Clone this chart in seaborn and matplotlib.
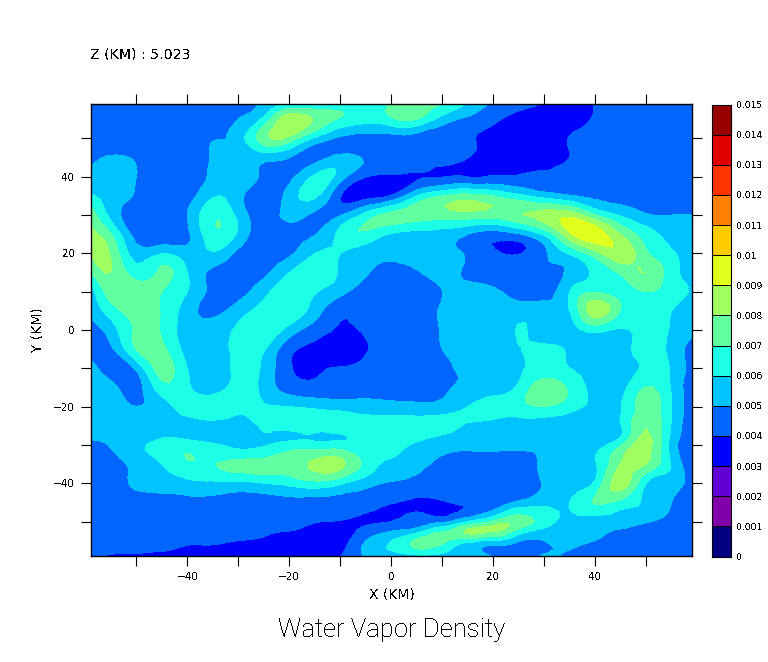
#!/usr/bin/env python
"""Water vapor density at Z = 5.023 km, filled contours with a boxed colour key."""
import numpy as np
import matplotlib
matplotlib.use('Agg')
import matplotlib.pyplot as plt
import matplotlib.tri as mtri
import seaborn as sns

x_km = [-59, -55, -50, -45, -40, -35, -30, -25, -20, -15, -10, -5, 0, 5, 10, 15, 20, 25, 30, 35, 40, 45, 50, 55, 59]
y_km = [59, 55, 50, 45, 40, 35, 30, 25, 20, 15, 10, 5, 0, -5, -10, -15, -20, -25, -28.5, -30, -35, -40, -45, -50, -52.5, -55, -59]

# density, in units of 0.001, one row per y_km value
density = [
    [4.5, 4.5, 4.5, 4.5, 4.5, 4.5, 4.6, 5.2, 5.9, 6.1, 6.4, 6.5, 7.1, 7.4, 7.1, 5.9, 4.8, 4.3, 3.95, 3.6, 4.05, 4.3, 4.4, 4.4, 4.4],
    [4.5, 4.5, 4.5, 4.5, 4.5, 4.5, 5.0, 6.3, 8.7, 7.9, 6.9, 6.4, 6.8, 7.0, 5.6, 4.8, 4.2, 3.7, 3.5, 3.5, 4.1, 4.3, 4.4, 4.4, 4.4],
    [4.5, 4.5, 4.5, 4.5, 4.5, 4.95, 5.5, 7.6, 7.7, 5.8, 4.8, 4.6, 4.6, 4.5, 4.4, 4.1, 3.7, 3.4, 3.5, 4.05, 4.4, 4.4, 4.4, 4.4, 4.4],
    [4.7, 5.1, 4.9, 4.5, 4.4, 5.1, 5.4, 5.4, 5.0, 4.6, 5.3, 4.9, 4.6, 4.5, 4.4, 4.02, 3.7, 3.6, 3.7, 4.0, 4.3, 4.4, 4.4, 4.4, 4.4],
    [5.3, 5.7, 5.0, 4.5, 4.4, 5.2, 5.4, 4.8, 4.7, 6.2, 5.5, 4.05, 3.8, 3.9, 3.97, 3.98, 4.1, 4.1, 4.1, 4.2, 4.5, 4.5, 4.5, 4.5, 4.5],
    [6.1, 5.6, 4.9, 4.4, 4.5, 5.9, 5.3, 4.5, 5.4, 6.2, 4.05, 3.6, 4.1, 6.0, 7.0, 7.4, 7.0, 6.3, 5.6, 5.1, 4.8, 4.6, 4.5, 4.4, 4.4],
    [7.7, 5.7, 4.5, 4.3, 5.0, 6.8, 5.7, 4.6, 5.2, 4.8, 4.95, 6.4, 7.3, 7.5, 7.5, 7.6, 7.5, 7.9, 8.4, 8.7, 7.1, 5.9, 5.1, 5.0, 5.0],
    [8.3, 7.1, 4.6, 4.2, 4.8, 6.7, 5.8, 4.4, 4.6, 4.95, 6.3, 6.8, 5.9, 5.6, 5.5, 5.0, 4.5, 4.9, 6.2, 8.8, 9.6, 8.0, 6.5, 5.6, 5.3],
    [8.1, 7.9, 5.5, 5.95, 5.5, 5.9, 4.7, 4.3, 4.8, 6.0, 6.0, 5.4, 5.1, 5.2, 5.3, 4.85, 4.2, 3.95, 4.8, 6.1, 7.6, 8.7, 7.2, 6.1, 5.5],
    [7.0, 8.0, 6.5, 7.2, 6.0, 4.8, 4.2, 4.7, 6.0, 6.6, 5.9, 5.1, 4.7, 4.9, 5.3, 4.8, 4.5, 4.6, 4.7, 5.2, 6.2, 7.2, 8.0, 6.4, 5.8],
    [5.5, 7.5, 7.6, 7.0, 6.0, 4.7, 4.6, 5.7, 6.5, 6.1, 5.3, 4.5, 4.4, 4.5, 5.0, 5.4, 5.2, 4.6, 4.4, 6.0, 6.95, 6.5, 7.0, 6.5, 5.9],
    [5.3, 6.5, 7.5, 6.9, 5.5, 4.7, 5.5, 6.4, 6.6, 5.5, 4.2, 4.2, 4.2, 4.5, 5.1, 5.4, 5.5, 5.6, 5.7, 6.0, 8.6, 6.95, 6.3, 6.0, 5.7],
    [4.4, 5.5, 7.2, 6.9, 5.5, 5.5, 6.2, 6.7, 5.6, 4.5, 3.9, 4.1, 4.3, 4.4, 5.1, 5.5, 5.5, 6.05, 5.6, 5.5, 6.3, 5.9, 6.3, 5.9, 5.3],
    [4.3, 4.8, 7.05, 7.3, 5.6, 5.4, 6.3, 6.1, 4.3, 3.8, 3.5, 3.95, 4.2, 4.4, 5.0, 5.4, 5.5, 5.95, 6.2, 5.9, 5.6, 5.6, 6.4, 5.7, 4.6],
    [5.5, 4.4, 5.2, 7.4, 6.0, 5.5, 6.2, 5.8, 4.1, 3.85, 4.05, 4.2, 4.4, 4.5, 4.7, 5.3, 5.4, 5.8, 6.4, 6.0, 5.6, 5.5, 6.2, 5.9, 4.5],
    [5.9, 5.4, 4.6, 6.6, 6.2, 5.6, 6.3, 5.7, 4.5, 4.3, 4.4, 4.5, 4.5, 4.5, 4.8, 5.2, 5.5, 6.2, 7.6, 6.8, 5.6, 5.6, 7.05, 5.9, 4.4],
    [5.8, 5.7, 5.0, 5.6, 6.3, 6.5, 6.2, 6.1, 6.0, 5.8, 5.6, 5.5, 5.4, 5.3, 5.4, 6.0, 6.4, 6.6, 7.0, 6.4, 5.7, 5.9, 7.5, 6.0, 4.5],
    [5.7, 5.6, 5.5, 5.5, 5.6, 5.7, 5.7, 6.1, 6.3, 6.4, 6.4, 6.4, 6.5, 6.5, 6.4, 5.9, 5.7, 5.5, 5.5, 5.4, 5.5, 5.95, 7.9, 5.9, 4.5],
    [5.05, 5.3, 5.6, 6.05, 5.95, 5.8, 5.6, 5.85, 5.9, 5.9, 5.95, 6.3, 6.4, 6.2, 5.7, 5.5, 5.4, 5.4, 5.4, 5.4, 5.5, 6.2, 8.3, 5.7, 4.5],
    [4.3, 5.1, 5.8, 6.3, 6.5, 6.1, 5.7, 5.9, 6.4, 6.4, 6.4, 6.3, 6.3, 5.8, 5.4, 5.3, 5.3, 5.3, 5.3, 5.4, 5.7, 6.9, 8.4, 5.6, 4.4],
    [4.3, 4.6, 5.3, 6.0, 6.88, 6.95, 7.3, 7.4, 7.5, 8.2, 8.3, 6.7, 5.8, 5.3, 4.7, 4.3, 4.3, 4.3, 5.3, 5.5, 5.9, 8.05, 8.0, 5.9, 4.3],
    [4.2, 4.4, 5.2, 5.4, 5.7, 5.8, 5.8, 6.0, 6.3, 6.7, 6.2, 5.4, 4.9, 4.6, 4.2, 4.1, 4.1, 4.3, 5.1, 5.5, 6.2, 8.5, 6.0, 5.4, 4.5],
    [4.4, 4.4, 4.5, 4.6, 4.7, 4.7, 4.6, 4.6, 4.7, 4.6, 4.6, 4.4, 4.05, 3.9, 3.9, 4.1, 4.3, 5.2, 5.7, 6.0, 7.1, 6.7, 5.8, 5.0, 4.4],
    [4.3, 4.4, 4.3, 4.3, 4.3, 4.3, 4.3, 4.3, 4.3, 4.05, 3.95, 3.9, 4.0, 4.4, 4.8, 6.0, 7.2, 7.6, 6.5, 5.7, 5.4, 5.3, 5.1, 4.7, 4.4],
    [4.3, 4.4, 4.3, 4.3, 4.3, 4.3, 4.2, 4.1, 4.0, 3.7, 3.6, 4.3, 5.0, 5.6, 6.9, 8.2, 8.1, 6.6, 5.7, 5.5, 5.2, 4.9, 4.5, 4.3, 4.3],
    [4.3, 4.3, 4.3, 4.2, 4.1, 4.1, 4.0, 3.95, 3.8, 3.7, 3.6, 5.0, 6.0, 7.2, 7.3, 6.4, 5.9, 5.1, 5.0, 5.3, 5.0, 4.5, 4.4, 4.3, 4.3],
    [4.1, 3.95, 3.9, 3.9, 3.9, 3.8, 3.8, 3.7, 3.6, 3.5, 3.95, 5.1, 5.6, 5.8, 5.7, 5.5, 4.9, 4.6, 5.1, 4.8, 4.4, 4.3, 4.3, 4.3, 4.3],
]

levels = [i * 0.001 for i in range(16)]
level_labels = ['0', '0.001', '0.002', '0.003', '0.004', '0.005', '0.006', '0.007',
                '0.008', '0.009', '0.01', '0.011', '0.012', '0.013', '0.014', '0.015']
band_colors = ['#000080', '#8000aa', '#6000d4', '#0000ff', '#0066ff', '#00c4ff', '#1cffe6', '#60ffa0',
               '#a0ff60', '#e0ff1c', '#ffcc00', '#ff8000', '#ff3300', '#e00000', '#990000']
tick_km = list(range(-50, 51, 10))
labelled_km = [-40, -20, 0, 20, 40]

W, H = 768, 662


def make_axes(fig, left, top, right, bottom):
    return fig.add_axes([left / W, 1 - bottom / H, (right - left) / W, (bottom - top) / H])


sns.set_theme(style='ticks')
plt.rcParams['font.family'] = ['DejaVu Sans']
plt.rcParams['text.antialiased'] = False

fig = plt.figure(figsize=(W / 100, H / 100), dpi=100)

ax = make_axes(fig, 90.5, 104, 692, 556)
grid = np.array(density) * 0.001
xx, yy = np.meshgrid(x_km, y_km)
# matplotlib's own mesh refiner rounds off the contour corners between grid nodes
tri = mtri.Triangulation(xx.ravel(), yy.ravel())
fine_tri, fine_z = mtri.UniformTriRefiner(tri).refine_field(grid.ravel(), subdiv=2)
ax.tricontourf(fine_tri, fine_z, levels=levels, colors=band_colors, antialiased=False)
ax.set_xlim(-59, 59)
ax.set_ylim(-59, 59)

labels_x = ['\u2212' + str(-k) if k < 0 else str(k) for k in tick_km]
labels_x = [l if k in labelled_km else '' for k, l in zip(tick_km, labels_x)]
ax.set_xticks(tick_km, labels_x)
ax.set_yticks(tick_km, labels_x)
ax.tick_params(axis='both', which='major', direction='out', length=7.2, width=0.8, color='black',
               top=True, right=True, labelsize=7.5, labelcolor='black')
ax.tick_params(axis='x', pad=4)
ax.tick_params(axis='y', pad=4)
for spine in ax.spines.values():
    spine.set_linewidth(1.0)
    spine.set_color('black')

fig.text(392 / W, 1 - 594 / H, 'X (KM)', ha='center', va='center', fontsize=10, color='black')
fig.text(38 / W, 1 - 330 / H, 'Y (KM)', ha='center', va='center', rotation=90, fontsize=10, color='black')
fig.text(90 / W, 1 - 55 / H, 'Z (KM) : 5.023', ha='left', va='center', fontsize=10.2, color='black')
fig.text(392 / W, 1 - 630 / H, 'Water Vapor Density', ha='center', va='center', fontsize=18.5, color='black',
         family='Roboto', fontweight='light')

# colour key, one heatmap cell per contour band, highest on top
cax = make_axes(fig, 712, 104.5, 731, 556.5)
key = np.arange(14, -1, -1).reshape(-1, 1)
sns.heatmap(key, ax=cax, cmap=sns.color_palette(band_colors, as_cmap=True), vmin=-0.5, vmax=14.5, cbar=False,
            linewidths=0.55, linecolor='black', xticklabels=False)
cax.set_yticks(np.arange(16), level_labels[::-1], rotation=0)
cax.yaxis.tick_right()
cax.tick_params(axis='y', length=0, pad=4, labelsize=6.6, labelcolor='black')
for spine in cax.spines.values():
    spine.set_visible(True)
    spine.set_linewidth(0.8)
    spine.set_color('black')

fig.savefig('out.png', dpi=100)
